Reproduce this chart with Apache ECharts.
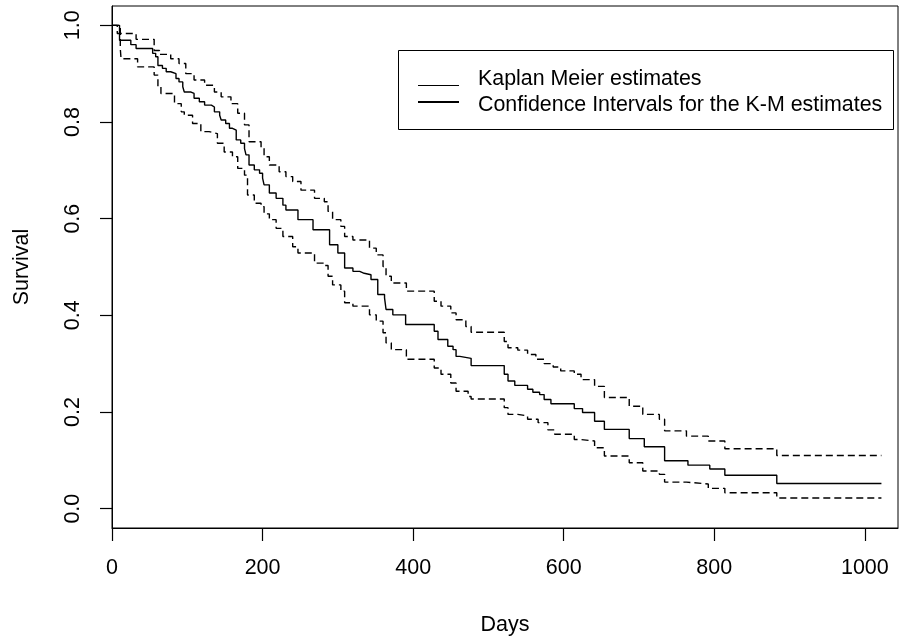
<!DOCTYPE html>
<html>
<head>
<meta charset="utf-8">
<script src="https://cdn.jsdelivr.net/npm/echarts@6/dist/echarts.min.js"></script>
<style>html,body{margin:0;padding:0;background:#fff}#c{width:901px;height:636px}</style>
</head>
<body>
<div id="c"></div>
<script>
// Kaplan-Meier estimate (step changes: day, survival after the drop)
var kmDays = [0,10,25,32,54,58,61,67,72,78,85,89,94,96,105,109,116,123,132,136,143,145,151,156,160,165,171,176,178,182,189,196,200,202,209,218,227,231,247,267,289,300,309,320,329,335,344,353,362,364,373,390,428,433,446,453,457,462,477,521,526,535,552,559,568,574,583,614,625,641,654,687,707,734,765,794,814,883,1022];
var kmSurv = [1.0,0.969,0.960,0.952,0.942,0.935,0.917,0.911,0.904,0.900,0.890,0.883,0.873,0.862,0.859,0.849,0.842,0.835,0.831,0.821,0.814,0.804,0.797,0.787,0.783,0.763,0.756,0.745,0.732,0.711,0.701,0.694,0.684,0.670,0.653,0.642,0.628,0.618,0.598,0.577,0.546,0.529,0.498,0.491,0.487,0.484,0.474,0.443,0.436,0.412,0.401,0.381,0.367,0.350,0.336,0.329,0.315,0.311,0.296,0.278,0.264,0.255,0.247,0.241,0.236,0.226,0.217,0.207,0.199,0.181,0.164,0.145,0.128,0.099,0.090,0.082,0.069,0.052,0.052];
// Upper confidence limit
var upDays = [0,7,32,56,63,78,89,98,109,123,136,145,158,167,176,182,198,202,209,222,231,240,251,269,282,287,293,304,309,320,342,351,360,364,371,391,428,437,450,457,470,477,521,526,539,552,563,574,586,596,614,623,641,654,687,705,727,734,763,792,814,883,1022];
var upSurv = [1.0,0.983,0.971,0.948,0.940,0.931,0.921,0.900,0.887,0.876,0.862,0.852,0.838,0.818,0.794,0.759,0.745,0.728,0.711,0.697,0.687,0.677,0.659,0.642,0.635,0.615,0.598,0.584,0.563,0.556,0.539,0.525,0.501,0.481,0.467,0.450,0.429,0.419,0.405,0.391,0.377,0.365,0.346,0.333,0.328,0.319,0.309,0.300,0.293,0.285,0.278,0.267,0.253,0.230,0.212,0.195,0.185,0.161,0.150,0.140,0.124,0.110,0.110];
// Lower confidence limit
var loDays = [0,11,12,34,56,61,65,83,92,96,107,118,129,140,149,160,167,176,180,189,198,202,209,218,227,240,247,269,282,287,293,304,309,320,342,351,360,364,371,391,428,437,450,457,473,477,521,526,539,552,566,579,588,614,623,641,654,687,705,727,734,763,792,814,883,1022];
var loSurv = [1.0,0.952,0.931,0.914,0.897,0.873,0.859,0.838,0.821,0.814,0.797,0.780,0.776,0.756,0.738,0.728,0.704,0.690,0.649,0.632,0.625,0.610,0.598,0.580,0.563,0.542,0.529,0.508,0.503,0.481,0.463,0.450,0.426,0.419,0.401,0.388,0.364,0.343,0.329,0.309,0.291,0.278,0.260,0.243,0.232,0.227,0.209,0.195,0.192,0.185,0.178,0.163,0.154,0.143,0.140,0.126,0.109,0.095,0.078,0.071,0.055,0.051,0.042,0.033,0.022,0.022];
var xTicks = [0,200,400,600,800,1000];
var yTicks = [0,0.2,0.4,0.6,0.8,1.0];
var legendLabels = ['Kaplan Meier estimates','Confidence Intervals for the K-M estimates'];

function pairs(a,b){ return a.map(function(v,i){ return [v,b[i]]; }); }
var FONT = '"Liberation Sans", Arial, sans-serif';
var chart = echarts.init(document.getElementById('c'), null, {renderer:'canvas'});
chart.setOption({
  animation:false,
  backgroundColor:'#fff',
  grid:{left:112,right:3,top:6,bottom:108,show:true,borderColor:'#000',borderWidth:1,containLabel:false,outerBoundsMode:'none'},
  xAxis:{type:'value',min:0,max:1044,position:'bottom',
    name:'Days',nameLocation:'middle',nameGap:86,
    nameTextStyle:{fontFamily:FONT,fontSize:21.5,color:'#000'},
    axisLine:{show:true,onZero:false,lineStyle:{color:'#000',width:1}},splitLine:{show:false},
    axisTick:{show:true,inside:false,length:13,customValues:xTicks,lineStyle:{color:'#000',width:1.2}},
    axisLabel:{customValues:xTicks,fontFamily:FONT,fontSize:21.5,color:'#000',margin:29,
      formatter:function(v){return String(v);}}},
  yAxis:{type:'value',min:-0.04,max:1.04,position:'left',
    name:'Survival',nameLocation:'middle',nameGap:79,nameRotate:90,
    nameTextStyle:{fontFamily:FONT,fontSize:21.5,color:'#000'},
    axisLine:{show:true,onZero:false,lineStyle:{color:'#000',width:1}},splitLine:{show:false},
    axisTick:{show:true,inside:false,length:12,customValues:yTicks,lineStyle:{color:'#000',width:1.2}},
    axisLabel:{customValues:yTicks,rotate:90,fontFamily:FONT,fontSize:21.5,color:'#000',margin:28,
      formatter:function(v){return v.toFixed(1);}}},
  series:[
    {name:legendLabels[0],type:'line',step:'end',showSymbol:false,symbol:'none',data:pairs(kmDays,kmSurv),
     lineStyle:{color:'#000',width:1.4}},
    {name:legendLabels[1],type:'line',step:'end',showSymbol:false,symbol:'none',data:pairs(upDays,upSurv),
     lineStyle:{color:'#000',width:1.4,type:[7,4]}},
    {name:legendLabels[1],type:'line',step:'end',showSymbol:false,symbol:'none',data:pairs(loDays,loSurv),
     lineStyle:{color:'#000',width:1.4,type:[7,4]}}
  ],
  graphic:[
    {type:'rect',shape:{x:398.5,y:50.5,width:495,height:79},style:{fill:'#fff',stroke:'#000',lineWidth:1},z:100},
    {type:'line',shape:{x1:418,y1:85.5,x2:459,y2:85.5},style:{stroke:'#000',lineWidth:1.2},z:101},
    {type:'line',shape:{x1:418,y1:102,x2:459,y2:102},style:{stroke:'#000',lineWidth:2.2},z:101},
    {type:'text',x:478,y:90,style:{text:legendLabels[0],font:'21.4px '+FONT,fill:'#000',verticalAlign:'bottom'},z:101},
    {type:'text',x:478,y:116,style:{text:legendLabels[1],font:'21.4px '+FONT,fill:'#000',verticalAlign:'bottom'},z:101}
  ]
});
</script>
</body>
</html>
